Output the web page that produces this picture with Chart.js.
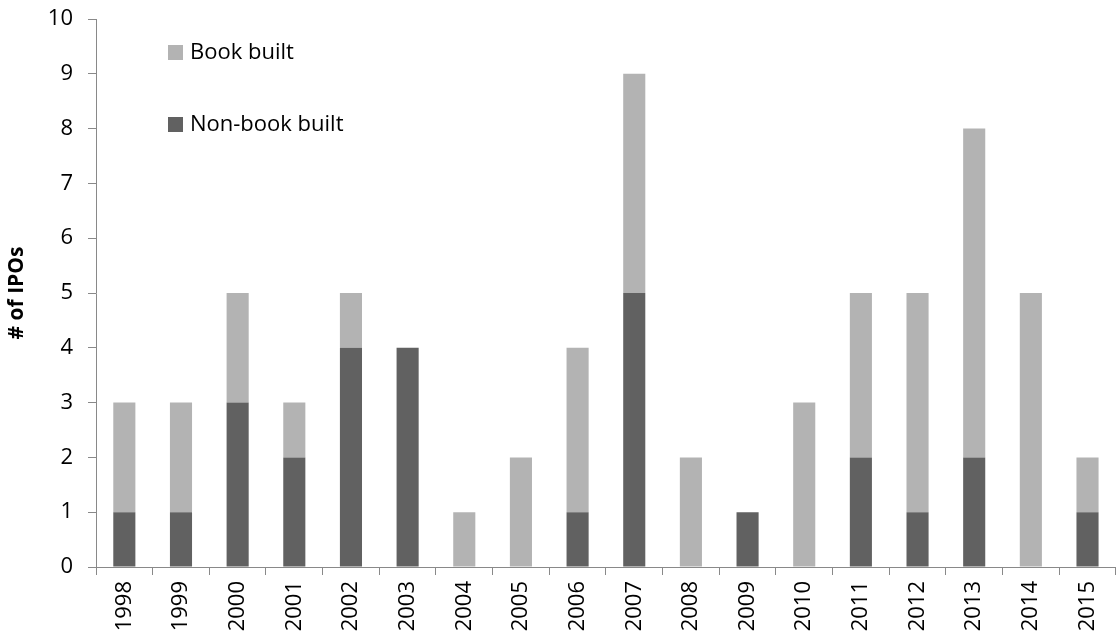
<!DOCTYPE html>
<html><head><meta charset="utf-8">
<script src="https://cdn.jsdelivr.net/npm/chart.js@4"></script>
<style>html,body{margin:0;padding:0;background:#fff}#wrap{width:1120px;height:641px;position:relative}</style>
</head><body><div id="wrap"><canvas id="c"></canvas></div>
<script>
const years = ["1998","1999","2000","2001","2002","2003","2004","2005","2006","2007","2008","2009","2010","2011","2012","2013","2014","2015"];
const nonBookBuilt = [1,1,3,2,4,4,0,0,1,5,0,1,0,2,1,2,0,1];
const bookBuilt = [2,2,2,1,1,0,1,2,3,4,2,0,3,3,4,6,5,1];
const yTicks = [0,1,2,3,4,5,6,7,8,9,10];

const FONT = "'Open Sans', 'Liberation Sans', sans-serif";
const AX = '#898989';

const legendPlugin = {
  id: 'inlineLegend',
  afterDraw(chart) {
    const ctx = chart.ctx;
    const items = [chart.data.datasets[1], chart.data.datasets[0]];
    const ys = [52, 124];
    ctx.save();
    ctx.font = "22px " + FONT;
    ctx.textBaseline = 'middle';
    items.forEach((ds, i) => {
      ctx.fillStyle = ds.backgroundColor;
      ctx.fillRect(168, ys[i] - 7, 15, 15);
      ctx.fillStyle = '#000';
      ctx.fillText(ds.label, 190, ys[i] + 1);
    });
    ctx.restore();
  }
};

new Chart(document.getElementById('c'), {
  type: 'bar',
  data: {
    labels: years,
    datasets: [
      { label: 'Non-book built', data: nonBookBuilt, backgroundColor: '#616161', barPercentage: 0.39, categoryPercentage: 1 },
      { label: 'Book built', data: bookBuilt, backgroundColor: '#b3b3b3', barPercentage: 0.39, categoryPercentage: 1 }
    ]
  },
  options: {
    responsive: true,
    maintainAspectRatio: false,
    animation: false,
    layout: { padding: { left: 0, right: 3, top: 19, bottom: 0 } },
    plugins: { legend: { display: false }, tooltip: { enabled: false } },
    scales: {
      x: {
        stacked: true,
        grid: { display: true, drawOnChartArea: false, offset: true, color: AX, tickLength: 8, lineWidth: 1 },
        border: { color: AX, width: 1 },
        ticks: { color: '#000', font: { family: FONT, size: 22 }, minRotation: 90, maxRotation: 90, padding: 6, autoSkip: false },
        afterFit(s) { s.height = 74; }
      },
      y: {
        stacked: true,
        min: 0, max: 10,
        afterBuildTicks(s) { s.ticks = yTicks.map(v => ({ value: v })); },
        grid: { display: true, drawOnChartArea: false, color: AX, tickLength: 8 },
        border: { color: AX, width: 1 },
        ticks: { color: '#000', font: { family: FONT, size: 22 }, padding: 15 },
        title: { display: true, text: '# of IPOs', color: '#000', font: { family: FONT, size: 21, weight: 'bold' }, padding: { top: 4, bottom: 0 } },
        afterFit(s) { s.width = 96; s.paddingTop = 0; s.paddingBottom = 0; }
      }
    }
  },
  plugins: [legendPlugin]
});
</script></body></html>
